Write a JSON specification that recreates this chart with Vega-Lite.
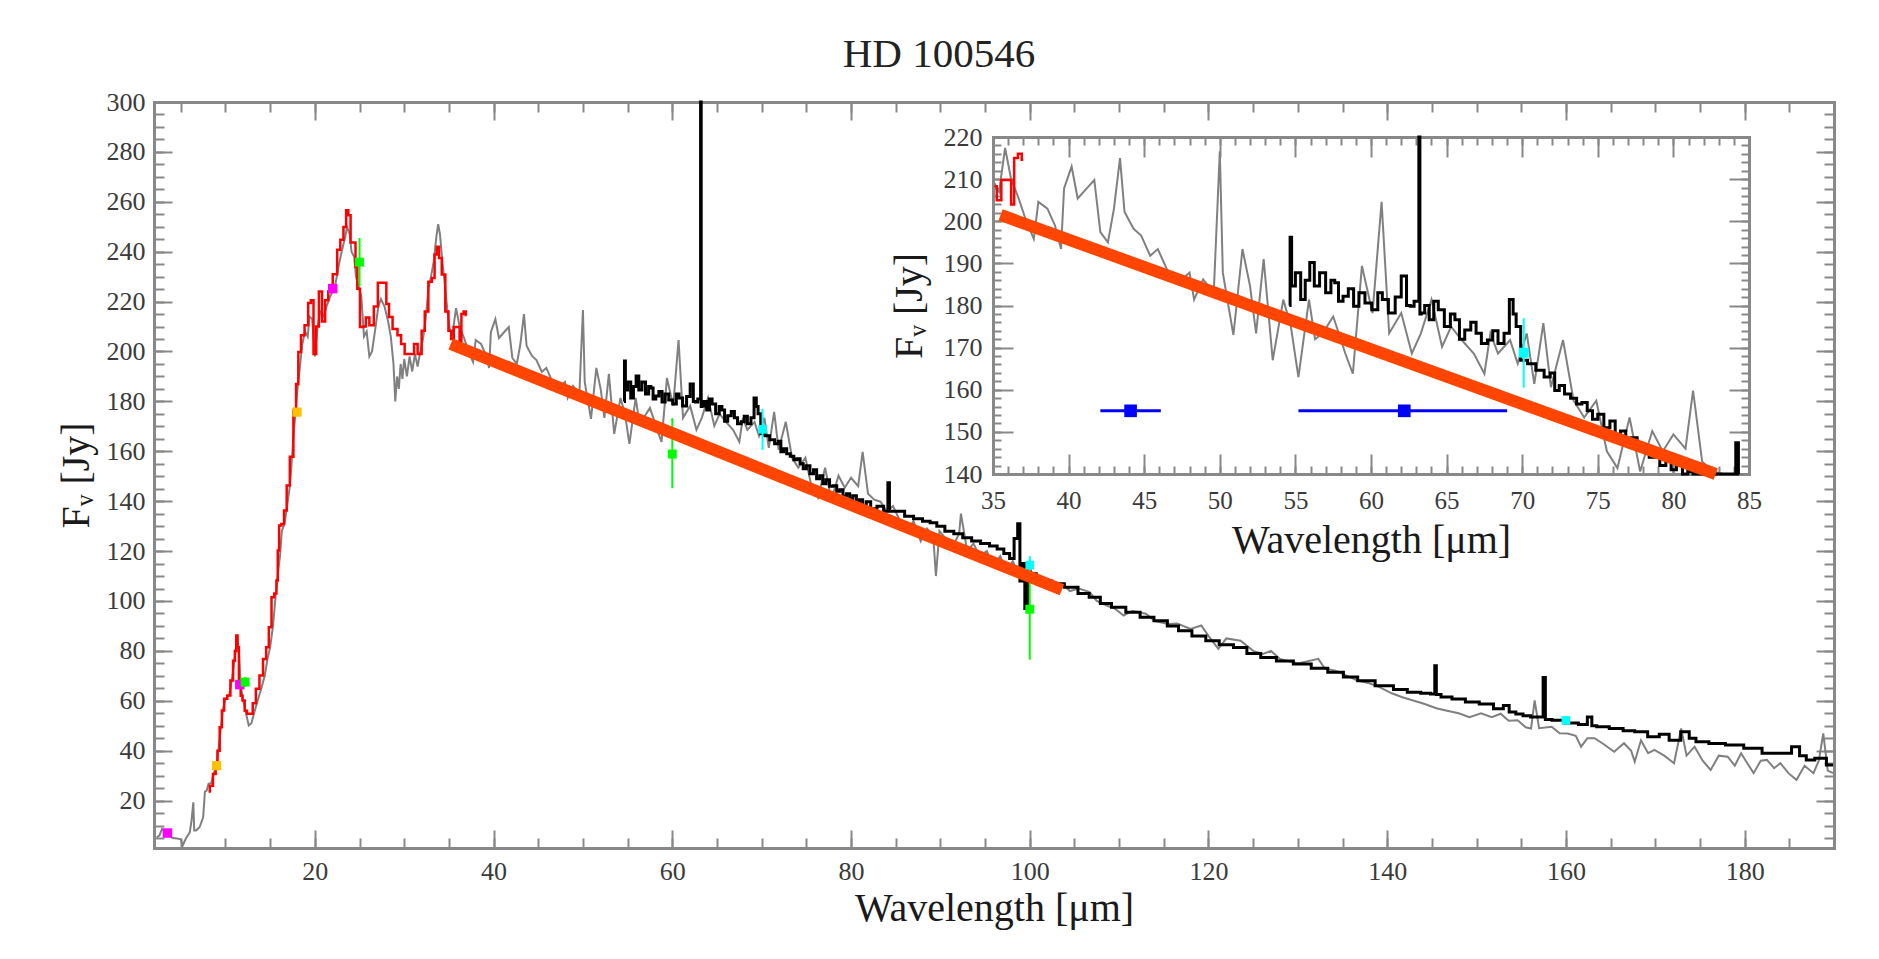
{
  "$schema": "https://vega.github.io/schema/vega-lite/v6.json",
  "width": 1680,
  "height": 746,
  "autosize": {"type": "none"},
  "padding": {"left": 154, "top": 102, "right": 45, "bottom": 111},
  "background": "white",
  "title": {"text": "HD 100546", "font": "Liberation Serif", "fontSize": 41, "fontWeight": "normal", "color": "#222222", "anchor": "middle", "dx": -55, "offset": 13},
  "config": {
    "view": {"stroke": null},
    "axis": {"labelFont": "Liberation Serif", "titleFont": "Liberation Serif", "titleFontWeight": "normal", "domainColor": "#888888", "domainWidth": 3, "domainCap": "square", "tickColor": "#888888", "tickWidth": 2, "labelColor": "#3a3a3a", "titleColor": "#1a1a1a", "grid": false, "labelFlush": false, "labelOverlap": false}
  },
  "datasets": {
    "gray": [
      {"wl":2.3,"f":5.3},{"wl":2.6,"f":6.0},{"wl":2.9,"f":8.7},{"wl":3.2,"f":7.5},{"wl":3.6,"f":6.0},{"wl":4.1,"f":5.0},{"wl":4.6,"f":4.8},{"wl":5.0,"f":4.5},{"wl":5.2,"f":1.9},{"wl":5.4,"f":3.5},{"wl":5.6,"f":5.0},{"wl":6.0,"f":7.3},{"wl":6.2,"f":12.0},{"wl":6.4,"f":19.3},{"wl":6.5,"f":8.0},{"wl":6.7,"f":8.0},{"wl":7.1,"f":9.3},{"wl":7.5,"f":13.3},{"wl":7.7,"f":23.6},{"wl":7.9,"f":24.0},{"wl":8.1,"f":26.7},{"wl":8.4,"f":27.0},{"wl":8.7,"f":31.0},{"wl":9.0,"f":34.0},{"wl":9.2,"f":40.0},{"wl":9.5,"f":49.4},{"wl":9.7,"f":56.1},{"wl":10.0,"f":60.8},{"wl":10.4,"f":62.1},{"wl":10.7,"f":68.1},{"wl":11.0,"f":76.1},{"wl":11.2,"f":82.0},{"wl":11.3,"f":86.2},{"wl":11.5,"f":80.0},{"wl":11.7,"f":66.0},{"wl":12.0,"f":60.0},{"wl":12.3,"f":55.0},{"wl":12.6,"f":50.1},{"wl":12.9,"f":51.0},{"wl":13.2,"f":55.0},{"wl":13.6,"f":60.1},{"wl":14.0,"f":64.8},{"wl":14.4,"f":70.1},{"wl":14.7,"f":76.8},{"wl":15.0,"f":81.5},{"wl":15.3,"f":89.5},{"wl":15.6,"f":101.5},{"wl":15.9,"f":112.0},{"wl":16.1,"f":118.0},{"wl":16.3,"f":128.0},{"wl":16.6,"f":131.0},{"wl":16.9,"f":138.0},{"wl":17.2,"f":146.0},{"wl":17.4,"f":155.0},{"wl":17.6,"f":166.0},{"wl":17.8,"f":174.0},{"wl":18.0,"f":183.0},{"wl":18.3,"f":193.0},{"wl":18.6,"f":203.0},{"wl":18.9,"f":208.0},{"wl":19.2,"f":206.0},{"wl":19.4,"f":214.0},{"wl":19.7,"f":213.0},{"wl":20.0,"f":198.0},{"wl":20.3,"f":210.0},{"wl":20.6,"f":216.0},{"wl":21.0,"f":214.0},{"wl":21.3,"f":218.0},{"wl":21.7,"f":222.0},{"wl":22.0,"f":224.0},{"wl":22.3,"f":227.0},{"wl":22.7,"f":235.0},{"wl":23.0,"f":240.0},{"wl":23.4,"f":246.0},{"wl":23.6,"f":250.0},{"wl":23.9,"f":247.0},{"wl":24.1,"f":240.0},{"wl":24.4,"f":238.0},{"wl":24.6,"f":230.0},{"wl":24.9,"f":226.0},{"wl":25.2,"f":222.0},{"wl":25.5,"f":206.0},{"wl":25.8,"f":208.0},{"wl":26.1,"f":198.0},{"wl":26.4,"f":200.0},{"wl":26.8,"f":210.0},{"wl":27.1,"f":218.0},{"wl":27.4,"f":221.0},{"wl":27.8,"f":218.0},{"wl":28.2,"f":212.0},{"wl":28.5,"f":206.0},{"wl":28.8,"f":195.0},{"wl":29.0,"f":180.0},{"wl":29.2,"f":190.0},{"wl":29.4,"f":185.0},{"wl":29.6,"f":195.0},{"wl":29.8,"f":189.0},{"wl":30.0,"f":197.0},{"wl":30.3,"f":190.0},{"wl":30.6,"f":198.0},{"wl":30.9,"f":192.0},{"wl":31.2,"f":199.0},{"wl":31.5,"f":194.0},{"wl":31.8,"f":200.0},{"wl":32.1,"f":205.0},{"wl":32.4,"f":213.0},{"wl":32.7,"f":225.0},{"wl":33.0,"f":230.0},{"wl":33.3,"f":236.0},{"wl":33.6,"f":246.0},{"wl":33.8,"f":251.0},{"wl":34.0,"f":247.0},{"wl":34.3,"f":235.0},{"wl":34.6,"f":225.0},{"wl":34.9,"f":214.0},{"wl":35.1,"f":209.0},{"wl":35.4,"f":207.0},
      {"wl":35.8,"f":217.4},{"wl":36.2,"f":210},{"wl":36.7,"f":205.4},{"wl":37.2,"f":200},{"wl":37.7,"f":195.8},{"wl":38.0,"f":204.6},{"wl":38.6,"f":203},{"wl":39.1,"f":199},{"wl":39.5,"f":193.4},{"wl":39.7,"f":207.8},{"wl":40.2,"f":213},{"wl":40.6,"f":205.4},{"wl":41.2,"f":207.8},{"wl":41.7,"f":209.8},{"wl":42.1,"f":197.4},{"wl":42.6,"f":195},{"wl":43.0,"f":203},{"wl":43.4,"f":215},{"wl":43.7,"f":202.2},{"wl":44.3,"f":198.2},{"wl":44.8,"f":196.6},{"wl":45.4,"f":191.8},{"wl":45.9,"f":193.4},{"wl":46.5,"f":188.6},{"wl":47.2,"f":185.4},{"wl":48.0,"f":187.8},{"wl":48.3,"f":181.4},{"wl":48.9,"f":186.2},{"wl":49.6,"f":183},{"wl":50.0,"f":216.6},{"wl":50.2,"f":187.8},{"wl":50.5,"f":181.4},{"wl":50.9,"f":173},{"wl":51.5,"f":193.4},{"wl":52.0,"f":184.6},{"wl":52.4,"f":173.4},{"wl":52.9,"f":191},{"wl":53.5,"f":167},{"wl":54.2,"f":181.4},{"wl":54.7,"f":175},{"wl":55.2,"f":163},{"wl":55.9,"f":181.4},{"wl":56.3,"f":172},{"wl":56.8,"f":173.4},{"wl":57.5,"f":177.4},{"wl":58.0,"f":172},{"wl":58.3,"f":168.6},{"wl":58.8,"f":163.8},{"wl":59.4,"f":189.4},{"wl":60.1,"f":178.2},{"wl":60.7,"f":204.6},{"wl":61.2,"f":173.4},{"wl":62.0,"f":178.2},{"wl":62.7,"f":168.6},{"wl":63.3,"f":173.4},{"wl":64.0,"f":181.4},{"wl":64.7,"f":170.2},{"wl":65.3,"f":175},{"wl":66.0,"f":171.8},{"wl":66.8,"f":168.6},{"wl":67.5,"f":163.8},{"wl":67.9,"f":173.4},{"wl":68.4,"f":168.6},{"wl":69.2,"f":171.8},{"wl":69.7,"f":166.2},{"wl":70.3,"f":173.4},{"wl":70.8,"f":161.4},{"wl":71.4,"f":175.8},{"wl":71.9,"f":160.6},{"wl":72.7,"f":171.8},{"wl":73.4,"f":157.4},{"wl":74.1,"f":153.4},{"wl":74.9,"f":157.4},{"wl":75.6,"f":145.4},{"wl":76.3,"f":141.4},{"wl":77.1,"f":153.4},{"wl":77.8,"f":140.6},{"wl":78.6,"f":150.2},{"wl":79.3,"f":145.4},{"wl":80.0,"f":149.4},{"wl":80.8,"f":146},{"wl":81.3,"f":159.8},{"wl":81.9,"f":143},{"wl":82.6,"f":140.6},{"wl":83.3,"f":139.8},{"wl":84.0,"f":136},{"wl":84.7,"f":138},
      {"wl":85.5,"f":132},{"wl":86.2,"f":128},{"wl":87.0,"f":132},{"wl":87.8,"f":124},{"wl":88.5,"f":129},{"wl":89.2,"f":126},{"wl":89.5,"f":110},{"wl":89.9,"f":128},{"wl":90.6,"f":125},{"wl":91.4,"f":122},{"wl":92.1,"f":127},{"wl":92.3,"f":135},{"wl":93.0,"f":120},{"wl":93.7,"f":123},{"wl":94.4,"f":118},{"wl":95.2,"f":120},{"wl":95.9,"f":114},{"wl":96.7,"f":118},{"wl":97.4,"f":112},{"wl":98.1,"f":116},{"wl":98.8,"f":110},{"wl":99.5,"f":113},{"wl":100.2,"f":110},{"wl":101.1,"f":109.6},{"wl":102.0,"f":108},{"wl":103.6,"f":106.9},{"wl":104.5,"f":104},{"wl":105.5,"f":105},{"wl":106.7,"f":103.6},{"wl":107.5,"f":100},{"wl":108.6,"f":98.2},{"wl":109.5,"f":97},{"wl":110.5,"f":94.2},{"wl":111.5,"f":96},{"wl":113.0,"f":94.9},{"wl":114.0,"f":92},{"wl":115.5,"f":90.8},{"wl":116.5,"f":91},{"wl":118.0,"f":88.8},{"wl":119.2,"f":90.2},{"wl":120.0,"f":86},{"wl":121.1,"f":80.8},{"wl":122.0,"f":85},{"wl":123.6,"f":84.1},{"wl":125.0,"f":80},{"wl":126.1,"f":78.8},{"wl":127.0,"f":80},{"wl":128.0,"f":76.8},{"wl":130.0,"f":75},{"wl":132.3,"f":76.8},{"wl":133.0,"f":73},{"wl":134.2,"f":72.1},{"wl":135.5,"f":70},{"wl":136.7,"f":68.1},{"wl":138.0,"f":67},{"wl":139.2,"f":65.4},{"wl":140.5,"f":63},{"wl":141.7,"f":61.4},{"wl":143.0,"f":60},{"wl":144.2,"f":58.7},{"wl":145.5,"f":57},{"wl":146.7,"f":56.0},{"wl":148.0,"f":55},{"wl":149.2,"f":53.4},{"wl":150.5,"f":55},{"wl":151.7,"f":53.4},{"wl":152.7,"f":54.8},{"wl":153.6,"f":52},{"wl":154.6,"f":52.2},{"wl":155.5,"f":49.4},{"wl":156.1,"f":48.9},{"wl":156.5,"f":60.2},{"wl":157.0,"f":49},{"wl":158.4,"f":49.6},{"wl":159.3,"f":47},{"wl":160.2,"f":46.9},{"wl":161.1,"f":46},{"wl":161.7,"f":41.6},{"wl":162.4,"f":45},{"wl":163.2,"f":45.0},{"wl":164.2,"f":42.7},{"wl":165.4,"f":39.6},{"wl":166.5,"f":43},{"wl":167.3,"f":40},{"wl":167.7,"f":35.6},{"wl":168.4,"f":44.2},{"wl":169.2,"f":39},{"wl":169.9,"f":40.3},{"wl":171.0,"f":38},{"wl":172.1,"f":35.0},{"wl":172.9,"f":48.9},{"wl":173.5,"f":38},{"wl":174.4,"f":41.6},{"wl":175.3,"f":36},{"wl":176.2,"f":32.3},{"wl":177.1,"f":38},{"wl":178.1,"f":37.6},{"wl":178.9,"f":34},{"wl":179.6,"f":39.0},{"wl":180.3,"f":35},{"wl":181.0,"f":31.0},{"wl":181.8,"f":36},{"wl":182.5,"f":36.3},{"wl":183.3,"f":33},{"wl":184.0,"f":35.0},{"wl":184.9,"f":31},{"wl":185.8,"f":28.3},{"wl":186.7,"f":34},{"wl":187.7,"f":31.0},{"wl":188.3,"f":36},{"wl":188.8,"f":46.9},{"wl":189.3,"f":32},{"wl":189.9,"f":31.0}
    ],
    "red": [
      {"wl":8.1,"f":23.6},{"wl":8.4,"f":26},{"wl":8.8,"f":30.7},{"wl":9.0,"f":34},{"wl":9.2,"f":40},{"wl":9.5,"f":49.4},{"wl":9.7,"f":56.1},{"wl":10.0,"f":60.8},{"wl":10.4,"f":62.1},{"wl":10.7,"f":68.1},{"wl":11.0,"f":76.1},{"wl":11.1,"f":80},{"wl":11.3,"f":86.2},{"wl":11.4,"f":81.5},{"wl":11.6,"f":67},{"wl":11.8,"f":62},{"wl":12.0,"f":60.1},{"wl":12.3,"f":56},{"wl":12.5,"f":54.8},{"wl":12.9,"f":54.8},{"wl":13.2,"f":59},{"wl":13.6,"f":64.8},{"wl":14.0,"f":70.1},{"wl":14.4,"f":76.8},{"wl":14.7,"f":81.5},{"wl":15.0,"f":89.5},{"wl":15.3,"f":101.5},{"wl":15.6,"f":103},{"wl":15.8,"f":108.2},{"wl":15.9,"f":120.2},{"wl":16.1,"f":130.3},{"wl":16.4,"f":130.9},{"wl":16.7,"f":136.3},{"wl":17.0,"f":146.3},{"wl":17.4,"f":157.8},{"wl":17.8,"f":176.4},{"wl":18.0,"f":187},{"wl":18.3,"f":199.8},{"wl":18.6,"f":206.5},{"wl":19.1,"f":210.5},{"wl":19.4,"f":219.4},{"wl":19.7,"f":220.5},{"wl":20.0,"f":199},{"wl":20.3,"f":210},{"wl":20.6,"f":224},{"wl":21.0,"f":212},{"wl":21.3,"f":220.5},{"wl":21.7,"f":224},{"wl":22.3,"f":231},{"wl":22.7,"f":240.8},{"wl":23.0,"f":244.8},{"wl":23.4,"f":249.9},{"wl":23.6,"f":256.6},{"wl":23.9,"f":254.6},{"wl":24.1,"f":243.7},{"wl":24.5,"f":243.7},{"wl":24.6,"f":234},{"wl":24.9,"f":225.2},{"wl":25.2,"f":209.8},{"wl":25.6,"f":210},{"wl":25.8,"f":213.6},{"wl":26.4,"f":210.5},{"wl":26.8,"f":218},{"wl":27.3,"f":227.6},{"wl":27.8,"f":227.6},{"wl":28.2,"f":219},{"wl":28.4,"f":213.8},{"wl":29.0,"f":209},{"wl":29.5,"f":206.5},{"wl":29.8,"f":203},{"wl":30.3,"f":199},{"wl":31.0,"f":199},{"wl":31.2,"f":203},{"wl":31.8,"f":199},{"wl":32.1,"f":208.3},{"wl":32.5,"f":216},{"wl":32.9,"f":228},{"wl":33.3,"f":229.5},{"wl":33.5,"f":238.9},{"wl":33.8,"f":242},{"wl":34.0,"f":237.5},{"wl":34.4,"f":230.9},{"wl":34.8,"f":216},{"wl":35.1,"f":208.3},{"wl":35.4,"f":205},{"wl":35.7,"f":209.8},{"wl":36.1,"f":209.8},{"wl":36.3,"f":204},{"wl":36.5,"f":215},{"wl":36.8,"f":216},{"wl":37.0,"f":214.6}
    ],
    "black": [
      {"wl":54.6,"f":180},{"wl":54.7,"f":196.2},{"wl":54.8,"f":184.6},{"wl":55.2,"f":187.8},{"wl":55.5,"f":181.4},{"wl":55.8,"f":186},{"wl":56.1,"f":190.2},{"wl":56.4,"f":184.6},{"wl":56.8,"f":187.8},{"wl":57.2,"f":183},{"wl":57.5,"f":186},{"wl":57.7,"f":185.4},{"wl":58.0,"f":181},{"wl":58.3,"f":182.2},{"wl":58.7,"f":184},{"wl":59.0,"f":179.8},{"wl":59.4,"f":183},{"wl":59.8,"f":180.6},{"wl":60.3,"f":179},{"wl":60.6,"f":183},{"wl":60.9,"f":181.4},{"wl":61.4,"f":178.2},{"wl":61.8,"f":182},{"wl":62.2,"f":187},{"wl":62.5,"f":180},{"wl":62.7,"f":179.8},{"wl":63.0,"f":181},{"wl":63.15,"f":181},{"wl":63.18,"f":300},{"wl":63.22,"f":300},{"wl":63.25,"f":178},{"wl":63.4,"f":178.2},{"wl":63.7,"f":180},{"wl":64.0,"f":176.6},{"wl":64.3,"f":181},{"wl":64.6,"f":179},{"wl":65.1,"f":175},{"wl":65.4,"f":178},{"wl":65.7,"f":176.6},{"wl":66.0,"f":172},{"wl":66.4,"f":174.2},{"wl":66.8,"f":176},{"wl":67.1,"f":173.4},{"wl":67.5,"f":171},{"wl":67.9,"f":171.8},{"wl":68.2,"f":174},{"wl":68.6,"f":171},{"wl":69.0,"f":173.4},{"wl":69.3,"f":181.4},{"wl":69.5,"f":178},{"wl":69.7,"f":175},{"wl":70.1,"f":167},{"wl":70.6,"f":166.2},{"wl":71.2,"f":164.6},{"wl":71.7,"f":163},{"wl":72.0,"f":164},{"wl":72.3,"f":159.8},{"wl":72.6,"f":161},{"wl":73.0,"f":159},{"wl":73.4,"f":158},{"wl":73.8,"f":156.6},{"wl":74.1,"f":157},{"wl":74.5,"f":155},{"wl":74.8,"f":153},{"wl":75.2,"f":154.2},{"wl":75.6,"f":151},{"wl":76.0,"f":152.6},{"wl":76.3,"f":149},{"wl":76.7,"f":150.2},{"wl":77.0,"f":147},{"wl":77.4,"f":148.6},{"wl":77.8,"f":146},{"wl":78.2,"f":146.2},{"wl":78.6,"f":144},{"wl":78.9,"f":144.6},{"wl":79.3,"f":142},{"wl":79.7,"f":143},{"wl":80.0,"f":141},{"wl":80.4,"f":142.2},{"wl":80.8,"f":139.5},{"wl":81.1,"f":140.6},{"wl":81.5,"f":138},{"wl":81.9,"f":139.8},{"wl":82.5,"f":137},{"wl":83.3,"f":138},{"wl":84.0,"f":136},{"wl":84.25,"f":147.4},{"wl":84.35,"f":136},{"wl":85.5,"f":136},{"wl":86.5,"f":134},{"wl":87.5,"f":133},{"wl":88.5,"f":132},{"wl":89.2,"f":131.4},{"wl":90.0,"f":130},{"wl":91.0,"f":128},{"wl":92.0,"f":127},{"wl":93.0,"f":125.3},{"wl":94.0,"f":124},{"wl":95.0,"f":123},{"wl":96.0,"f":122},{"wl":96.7,"f":120.8},{"wl":97.5,"f":119},{"wl":98.0,"f":117},{"wl":98.5,"f":125},{"wl":98.8,"f":131},{"wl":99.0,"f":108},{"wl":99.3,"f":115},{"wl":99.6,"f":97},{"wl":99.9,"f":112},{"wl":100.2,"f":111},{"wl":100.45,"f":110.9},{"wl":101.0,"f":109},{"wl":102.0,"f":108},{"wl":102.95,"f":106.9},{"wl":104.8,"f":105.5},{"wl":106.0,"f":103},{"wl":107.3,"f":101.5},{"wl":108.5,"f":99},{"wl":109.8,"f":97.5},{"wl":111.7,"f":95.5},{"wl":113.0,"f":93.5},{"wl":114.8,"f":92.1},{"wl":116.0,"f":90},{"wl":117.3,"f":88.1},{"wl":119.0,"f":86},{"wl":120.4,"f":84.1},{"wl":122.0,"f":82.5},{"wl":123.6,"f":81.4},{"wl":125.0,"f":79},{"wl":126.7,"f":77.4},{"wl":128.5,"f":76},{"wl":130.5,"f":74.7},{"wl":132.5,"f":73},{"wl":134.2,"f":71.4},{"wl":136.0,"f":69.5},{"wl":137.4,"f":68.0},{"wl":139.9,"f":66.0},{"wl":141.5,"f":64.5},{"wl":143.0,"f":63.4},{"wl":144.5,"f":63},{"wl":145.2,"f":62.7},{"wl":145.45,"f":74},{"wl":145.55,"f":62.5},{"wl":146.5,"f":61.5},{"wl":148.0,"f":60.7},{"wl":149.5,"f":59.5},{"wl":151.1,"f":58.7},{"wl":152.7,"f":56.8},{"wl":153.3,"f":58.1},{"wl":154.0,"f":55.5},{"wl":154.8,"f":54.7},{"wl":155.6,"f":54},{"wl":156.5,"f":53.5},{"wl":157.3,"f":53.5},{"wl":157.6,"f":69.3},{"wl":157.8,"f":52.5},{"wl":159.1,"f":52.2},{"wl":160.8,"f":51.1},{"wl":162.0,"f":50.5},{"wl":162.8,"f":53.5},{"wl":163.0,"f":50},{"wl":163.9,"f":49.6},{"wl":165.8,"f":48.9},{"wl":167.0,"f":48},{"wl":168.4,"f":47.6},{"wl":169.9,"f":45.6},{"wl":171.0,"f":46.6},{"wl":172.1,"f":44.2},{"wl":173.6,"f":47.6},{"wl":174.0,"f":45},{"wl":175.1,"f":43.6},{"wl":176.9,"f":42.9},{"wl":178.8,"f":42.3},{"wl":181.0,"f":41.0},{"wl":182.9,"f":39.0},{"wl":184.7,"f":39.0},{"wl":185.8,"f":41.6},{"wl":186.5,"f":38},{"wl":187.3,"f":36.3},{"wl":188.4,"f":37.0},{"wl":189.9,"f":34.3}
    ],
    "fitmain": [{"wl":35.2,"f":203.0},{"wl":103.6,"f":104.5}],
    "fitinset": [{"wl":35.5,"f":201.5},{"wl":82.8,"f":137.8}],
    "phot": [
      {"src":"WISE","wl":3.5,"f":7.0},
      {"src":"WISE","wl":11.6,"f":66.5},
      {"src":"WISE","wl":22.0,"f":225.2},
      {"src":"AKARI","wl":9.0,"f":34.0},
      {"src":"AKARI","wl":18.0,"f":175.7},
      {"src":"IRAS","wl":12.2,"f":67.5,"lo":65.5,"hi":69.5},
      {"src":"IRAS","wl":25.0,"f":235.8,"lo":226.1,"hi":245.5},
      {"src":"IRAS","wl":60.0,"f":158.9,"lo":145.2,"hi":173.3},
      {"src":"IRAS","wl":100.0,"f":96.7,"lo":76.5,"hi":116.7},
      {"src":"PACS","wl":70.1,"f":168.8,"lo":160.5,"hi":177.0},
      {"src":"PACS","wl":100.0,"f":114.4,"lo":111.0,"hi":118.0},
      {"src":"PACS","wl":160.0,"f":52.1}
    ],
    "blue": [
      {"src":"blue","wl":44.1,"f":155.0,"xlo":42.1,"xhi":46.1},
      {"src":"blue","wl":62.2,"f":155.0,"xlo":55.2,"xhi":69.0}
    ]
  },
  "resolve": {"scale": {"x": "independent", "y": "independent"}, "axis": {"x": "independent", "y": "independent"}},
  "layer": [
    {
      "resolve": {"axis": {"x": "independent", "y": "independent"}},
      "layer": [
        {"data": {"name": "gray"}, "mark": {"type": "line", "color": "#808080", "strokeWidth": 2, "interpolate": "linear"},
         "encoding": {"x": {"field": "wl", "type": "quantitative", "scale": {"domain": [2, 190], "nice": false, "zero": false}, "axis": null},
                      "y": {"field": "f", "type": "quantitative", "scale": {"domain": [1, 300], "nice": false, "zero": false}, "axis": null}}},
        {"data": {"name": "red"}, "mark": {"type": "line", "color": "#ff0000", "strokeWidth": 2.5, "interpolate": "step"},
         "encoding": {"x": {"field": "wl", "type": "quantitative", "axis": null}, "y": {"field": "f", "type": "quantitative", "axis": null}}},
        {"data": {"name": "black"}, "mark": {"type": "line", "color": "#000000", "strokeWidth": 3, "interpolate": "step"},
         "encoding": {"x": {"field": "wl", "type": "quantitative", "axis": null}, "y": {"field": "f", "type": "quantitative", "axis": null}}},
        {"data": {"name": "phot"}, "transform": [{"filter": "isValid(datum.lo)"}], "mark": {"type": "rule", "strokeWidth": 2},
         "encoding": {"x": {"field": "wl", "type": "quantitative", "axis": null}, "y": {"field": "lo", "type": "quantitative", "axis": null}, "y2": {"field": "hi"},
                      "color": {"field": "src", "type": "nominal", "scale": {"domain": ["WISE", "AKARI", "IRAS", "PACS", "blue"], "range": ["#ff00ff", "#ffc000", "#00ff00", "#00ffff", "#0000ff"]}, "legend": null}}},
        {"data": {"name": "fitmain"}, "mark": {"type": "line", "color": "#ff4500", "strokeWidth": 12, "strokeCap": "butt"},
         "encoding": {"x": {"field": "wl", "type": "quantitative", "axis": null}, "y": {"field": "f", "type": "quantitative", "axis": null}}},
        {"data": {"name": "phot"}, "mark": {"type": "point", "shape": "square", "filled": true, "opacity": 1},
         "encoding": {"x": {"field": "wl", "type": "quantitative", "axis": null}, "y": {"field": "f", "type": "quantitative", "axis": null},
                      "color": {"field": "src", "type": "nominal", "scale": {"domain": ["WISE", "AKARI", "IRAS", "PACS", "blue"], "range": ["#ff00ff", "#ffc000", "#00ff00", "#00ffff", "#0000ff"]}, "legend": null},
                      "size": {"field": "src", "type": "nominal", "scale": {"domain": ["WISE", "AKARI", "IRAS", "PACS", "blue"], "range": [90, 70, 45, 100, 160]}, "legend": null}}},
        {"data": {"name": "phot"}, "mark": {"type": "point", "opacity": 0},
         "encoding": {"x": {"field": "wl", "type": "quantitative", "axis": {"orient": "bottom", "values": [20, 40, 60, 80, 100, 120, 140, 160, 180], "tickSize": -18, "labelPadding": 28, "labelFontSize": 26, "title": "Wavelength [μm]", "titleFontSize": 40, "titlePadding": 4}},
                      "y": {"field": "f", "type": "quantitative", "axis": {"orient": "left", "values": [20, 40, 60, 80, 100, 120, 140, 160, 180, 200, 220, 240, 260, 280, 300], "tickSize": -18, "labelPadding": 27, "labelFontSize": 26, "title": "Fᵥ [Jy]", "titleFontSize": 40, "titlePadding": 10}}}},
        {"data": {"name": "phot"}, "mark": {"type": "point", "opacity": 0},
         "encoding": {"x": {"field": "wl", "type": "quantitative", "axis": {"orient": "bottom", "values": [5,10,15,20,25,30,35,40,45,50,55,60,65,70,75,80,85,90,95,100,105,110,115,120,125,130,135,140,145,150,155,160,165,170,175,180,185,190], "tickSize": -10, "labels": false, "domain": false, "title": null}},
                      "y": {"field": "f", "type": "quantitative", "axis": {"orient": "left", "values": [5,10,15,20,25,30,35,40,45,50,55,60,65,70,75,80,85,90,95,100,105,110,115,120,125,130,135,140,145,150,155,160,165,170,175,180,185,190,195,200,205,210,215,220,225,230,235,240,245,250,255,260,265,270,275,280,285,290,295,300], "tickSize": -10, "labels": false, "domain": false, "title": null}}}},
        {"data": {"name": "phot"}, "mark": {"type": "point", "opacity": 0},
         "encoding": {"x": {"field": "wl", "type": "quantitative", "axis": {"orient": "top", "values": [20, 40, 60, 80, 100, 120, 140, 160, 180], "tickSize": -18, "labels": false, "title": null}},
                      "y": {"field": "f", "type": "quantitative", "axis": {"orient": "right", "values": [20, 40, 60, 80, 100, 120, 140, 160, 180, 200, 220, 240, 260, 280, 300], "tickSize": -18, "labels": false, "title": null}}}},
        {"data": {"name": "phot"}, "mark": {"type": "point", "opacity": 0},
         "encoding": {"x": {"field": "wl", "type": "quantitative", "axis": {"orient": "top", "values": [5,10,15,20,25,30,35,40,45,50,55,60,65,70,75,80,85,90,95,100,105,110,115,120,125,130,135,140,145,150,155,160,165,170,175,180,185,190], "tickSize": -10, "labels": false, "domain": false, "title": null}},
                      "y": {"field": "f", "type": "quantitative", "axis": {"orient": "right", "values": [5,10,15,20,25,30,35,40,45,50,55,60,65,70,75,80,85,90,95,100,105,110,115,120,125,130,135,140,145,150,155,160,165,170,175,180,185,190,195,200,205,210,215,220,225,230,235,240,245,250,255,260,265,270,275,280,285,290,295,300], "tickSize": -10, "labels": false, "domain": false, "title": null}}}}
      ]
    },
    {
      "resolve": {"axis": {"x": "independent", "y": "independent"}},
      "layer": [
        {"data": {"name": "gray"}, "transform": [{"filter": "datum.wl >= 35 && datum.wl <= 85"}], "mark": {"type": "line", "color": "#808080", "strokeWidth": 2, "interpolate": "linear"},
         "encoding": {"x": {"field": "wl", "type": "quantitative", "scale": {"domain": [35, 85], "range": [839, 1595], "nice": false, "zero": false, "clamp": true}, "axis": null},
                      "y": {"field": "f", "type": "quantitative", "scale": {"domain": [140, 220], "range": [372, 35], "nice": false, "zero": false, "clamp": true}, "axis": null}}},
        {"data": {"name": "red"}, "transform": [{"filter": "datum.wl >= 35 && datum.wl <= 85"}], "mark": {"type": "line", "color": "#ff0000", "strokeWidth": 2.5, "interpolate": "step"},
         "encoding": {"x": {"field": "wl", "type": "quantitative", "axis": null}, "y": {"field": "f", "type": "quantitative", "axis": null}}},
        {"data": {"name": "black"}, "transform": [{"filter": "datum.wl >= 35 && datum.wl <= 85"}], "mark": {"type": "line", "color": "#000000", "strokeWidth": 3, "interpolate": "step"},
         "encoding": {"x": {"field": "wl", "type": "quantitative", "axis": null}, "y": {"field": "f", "type": "quantitative", "axis": null}}},
        {"data": {"name": "phot"}, "transform": [{"filter": "isValid(datum.lo) && datum.src == 'PACS' && datum.wl >= 35 && datum.wl <= 85"}], "mark": {"type": "rule", "strokeWidth": 2, "color": "#00ffff"},
         "encoding": {"x": {"field": "wl", "type": "quantitative", "axis": null}, "y": {"field": "lo", "type": "quantitative", "axis": null}, "y2": {"field": "hi"}}},
        {"data": {"name": "blue"}, "mark": {"type": "rule", "strokeWidth": 3, "color": "#0000ff"},
         "encoding": {"x": {"field": "xlo", "type": "quantitative", "axis": null}, "x2": {"field": "xhi"}, "y": {"field": "f", "type": "quantitative", "axis": null}}},
        {"data": {"name": "fitinset"}, "mark": {"type": "line", "color": "#ff4500", "strokeWidth": 12, "strokeCap": "butt"},
         "encoding": {"x": {"field": "wl", "type": "quantitative", "axis": null}, "y": {"field": "f", "type": "quantitative", "axis": null}}},
        {"data": {"name": "phot"}, "transform": [{"filter": "datum.src == 'PACS' && datum.wl >= 35 && datum.wl <= 85"}], "mark": {"type": "point", "shape": "square", "filled": true, "opacity": 1, "color": "#00ffff", "size": 100},
         "encoding": {"x": {"field": "wl", "type": "quantitative", "axis": null}, "y": {"field": "f", "type": "quantitative", "axis": null}}},
        {"data": {"name": "blue"}, "mark": {"type": "point", "shape": "square", "filled": true, "opacity": 1, "color": "#0000ff", "size": 160},
         "encoding": {"x": {"field": "wl", "type": "quantitative", "axis": null}, "y": {"field": "f", "type": "quantitative", "axis": null}}},
        {"data": {"name": "blue"}, "mark": {"type": "point", "opacity": 0},
         "encoding": {"x": {"field": "wl", "type": "quantitative", "axis": {"orient": "bottom", "offset": -374, "values": [35, 40, 45, 50, 55, 60, 65, 70, 75, 80, 85], "tickSize": -20, "labelPadding": 34, "labelFontSize": 25, "title": "Wavelength [μm]", "titleFontSize": 40, "titlePadding": 7}},
                      "y": {"field": "f", "type": "quantitative", "axis": {"orient": "left", "offset": -839, "values": [140, 150, 160, 170, 180, 190, 200, 210, 220], "tickSize": -20, "labelPadding": 31, "labelFontSize": 26, "title": "Fᵥ [Jy]", "titleFontSize": 40, "titlePadding": 14}}}},
        {"data": {"name": "blue"}, "mark": {"type": "point", "opacity": 0},
         "encoding": {"x": {"field": "wl", "type": "quantitative", "axis": {"orient": "bottom", "offset": -374, "values": [35,36,37,38,39,40,41,42,43,44,45,46,47,48,49,50,51,52,53,54,55,56,57,58,59,60,61,62,63,64,65,66,67,68,69,70,71,72,73,74,75,76,77,78,79,80,81,82,83,84,85], "tickSize": -8, "labels": false, "domain": false, "title": null}},
                      "y": {"field": "f", "type": "quantitative", "axis": {"orient": "left", "offset": -839, "values": [140,142,144,146,148,150,152,154,156,158,160,162,164,166,168,170,172,174,176,178,180,182,184,186,188,190,192,194,196,198,200,202,204,206,208,210,212,214,216,218,220], "tickSize": -8, "labels": false, "domain": false, "title": null}}}},
        {"data": {"name": "blue"}, "mark": {"type": "point", "opacity": 0},
         "encoding": {"x": {"field": "wl", "type": "quantitative", "axis": {"orient": "top", "offset": -35, "values": [35, 40, 45, 50, 55, 60, 65, 70, 75, 80, 85], "tickSize": -20, "labels": false, "title": null}},
                      "y": {"field": "f", "type": "quantitative", "axis": {"orient": "right", "offset": -85, "values": [140, 150, 160, 170, 180, 190, 200, 210, 220], "tickSize": -20, "labels": false, "title": null}}}},
        {"data": {"name": "blue"}, "mark": {"type": "point", "opacity": 0},
         "encoding": {"x": {"field": "wl", "type": "quantitative", "axis": {"orient": "top", "offset": -35, "values": [35,36,37,38,39,40,41,42,43,44,45,46,47,48,49,50,51,52,53,54,55,56,57,58,59,60,61,62,63,64,65,66,67,68,69,70,71,72,73,74,75,76,77,78,79,80,81,82,83,84,85], "tickSize": -8, "labels": false, "domain": false, "title": null}},
                      "y": {"field": "f", "type": "quantitative", "axis": {"orient": "right", "offset": -85, "values": [140,142,144,146,148,150,152,154,156,158,160,162,164,166,168,170,172,174,176,178,180,182,184,186,188,190,192,194,196,198,200,202,204,206,208,210,212,214,216,218,220], "tickSize": -8, "labels": false, "domain": false, "title": null}}}}
      ]
    }
  ]
}
